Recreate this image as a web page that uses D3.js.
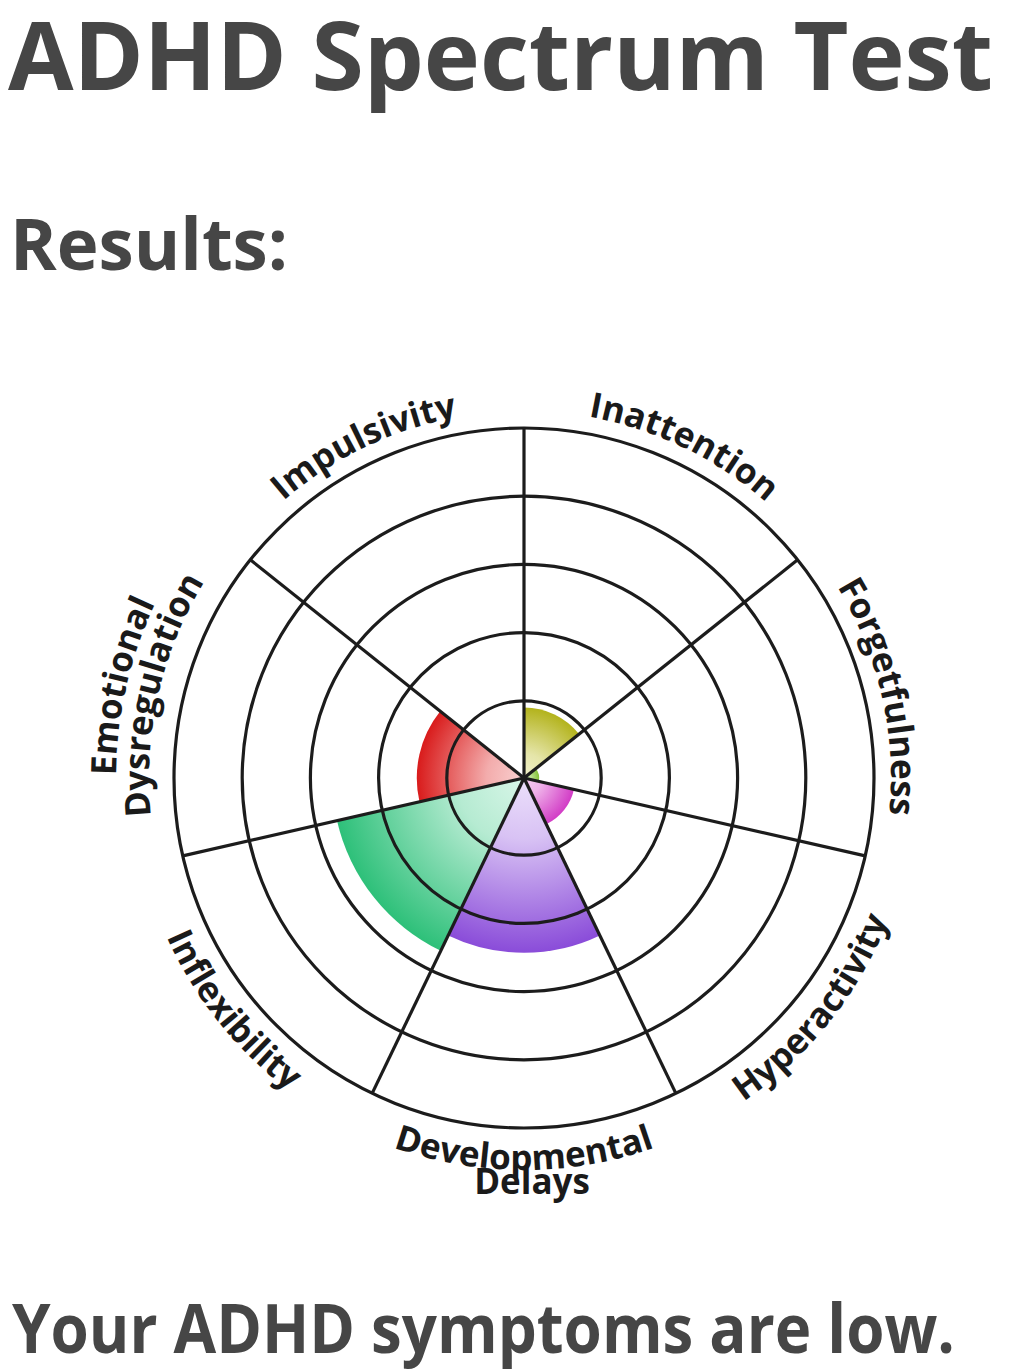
<!DOCTYPE html>
<html>
<head>
<meta charset="utf-8">
<script src="https://cdn.jsdelivr.net/npm/d3@7"></script>
<style>
  html, body { margin: 0; padding: 0; background: #ffffff; }
  svg { display: block; }
</style>
</head>
<body>
<svg id="chart" width="1029" height="1369"></svg>
<script>
// ---- data ----
const categories = ["Inattention", "Forgetfulness", "Hyperactivity", "Developmental Delays", "Inflexibility", "Emotional Dysregulation", "Impulsivity"];
const scores = [0.9, 0.09, 0.62, 2.43, 2.68, 1.44, 0];
const ringLevels = [1, 2, 3, 4, 5];
const outerColors = ["#b3b31c", "#86c23a", "#d23cc6", "#8a4cd9", "#2dc079", "#d91b1b", "#999999"];
const innerColors = ["#f1f1cc", "#d9f0c0", "#f6d0f2", "#ece0fb", "#d8f6e8", "#f9d0d0", "#eeeeee"];
const titleText = "ADHD Spectrum Test";
const subtitleText = "Results:";
const resultText = "Your ADHD symptoms are low.";

// ---- layout ----
const svg = d3.select("#chart");
const cx = 524, cy = 778;
const textColor = "#464646";
const lineColor = "#1c1c1c";

svg.append("rect").attr("width", 1029).attr("height", 1369).attr("fill", "#fff");

function fitText(sel, targetWidth) {
  const w = sel.node().getComputedTextLength();
  if (w > 0) sel.attr("textLength", targetWidth).attr("lengthAdjust", "spacingAndGlyphs");
}

const title = svg.append("text").attr("x", 8).attr("y", 90)
  .attr("font-family", "'Open Sans', sans-serif").attr("font-weight", 700)
  .attr("font-size", 95).attr("fill", textColor).text(titleText);
fitText(title, 985);

const sub = svg.append("text").attr("x", 10).attr("y", 270)
  .attr("font-family", "'Open Sans', sans-serif").attr("font-weight", 700)
  .attr("font-size", 72).attr("fill", textColor).text(subtitleText);
fitText(sub, 278);

const res = svg.append("text").attr("x", 12).attr("y", 1353)
  .attr("font-family", "'Open Sans', sans-serif").attr("font-weight", 700)
  .attr("font-size", 68).attr("fill", textColor).text(resultText);
fitText(res, 943);

// ---- chart ----
const n = categories.length;
const angle = d3.scaleLinear().domain([0, n]).range([0, 2 * Math.PI]);
const r = d3.scaleLinear().domain([0, 5]).range([9, 350]);
const R = r(5);

const defs = svg.append("defs");
const g = svg.append("g").attr("transform", `translate(${cx},${cy})`);

const data = categories.map((c, i) => ({
  name: c, value: scores[i], i,
  start: angle(i), end: angle(i + 1),
  outer: scores[i] > 0 ? r(scores[i]) : 0
}));

data.forEach(d => {
  const grad = defs.append("radialGradient")
    .attr("id", "grad" + d.i)
    .attr("gradientUnits", "userSpaceOnUse")
    .attr("cx", 0).attr("cy", 0).attr("r", Math.max(d.outer, 1));
  grad.append("stop").attr("offset", "0%").attr("stop-color", innerColors[d.i]);
  grad.append("stop").attr("offset", "35%").attr("stop-color", d3.interpolateRgb(innerColors[d.i], outerColors[d.i])(0.2));
  grad.append("stop").attr("offset", "100%").attr("stop-color", outerColors[d.i]);
});

const arc = d3.arc().innerRadius(0).outerRadius(d => d.outer)
  .startAngle(d => d.start).endAngle(d => d.end);

g.selectAll("path.wedge").data(data.filter(d => d.value > 0)).join("path")
  .attr("class", "wedge")
  .attr("d", arc)
  .attr("fill", d => `url(#grad${d.i})`);

// rings
g.selectAll("circle.ring").data(ringLevels).join("circle")
  .attr("class", "ring")
  .attr("r", d => r(d))
  .attr("fill", "none").attr("stroke", lineColor).attr("stroke-width", 3.2);

// spokes
g.selectAll("line.spoke").data(d3.range(n)).join("line")
  .attr("class", "spoke")
  .attr("x1", 0).attr("y1", 0)
  .attr("x2", i => R * Math.sin(angle(i)))
  .attr("y2", i => -R * Math.cos(angle(i)))
  .attr("stroke", lineColor).attr("stroke-width", 3.2);

// labels on arcs
function pt(rad, a) { return [rad * Math.sin(a), -rad * Math.cos(a)]; }
function arcPath(rad, mid, ccw) {
  const a0 = mid - 1.4, a1 = mid + 1.4;
  if (!ccw) {
    const p0 = pt(rad, a0), p1 = pt(rad, a1);
    return `M${p0[0]},${p0[1]} A${rad},${rad} 0 0 1 ${p1[0]},${p1[1]}`;
  } else {
    const p0 = pt(rad, a1), p1 = pt(rad, a0);
    return `M${p0[0]},${p0[1]} A${rad},${rad} 0 0 0 ${p1[0]},${p1[1]}`;
  }
}

const labelFont = 35;
const labelWeight = 700;
data.forEach(d => {
  const mid = (d.start + d.end) / 2;
  const deg = mid * 180 / Math.PI;
  const ccw = deg > 100 && deg < 260;
  const lines = d.name.split(" ");
  let radii;
  if (!ccw) radii = lines.length === 1 ? [367] : [408, 375];
  else radii = lines.length === 1 ? [391] : [392, 416];
  lines.forEach((ln, k) => {
    const id = `lp${d.i}_${k}`;
    if (ccw && k === 1) {
      g.append("text")
        .attr("x", radii[k] * Math.sin(mid) + 8)
        .attr("y", -radii[k] * Math.cos(mid))
        .attr("text-anchor", "middle")
        .attr("font-family", "'Open Sans', sans-serif").attr("font-weight", labelWeight)
        .attr("font-size", labelFont).attr("fill", "#1a1a1a")
        .text(ln);
      return;
    }
    defs.append("path").attr("id", id).attr("d", arcPath(radii[k], mid, ccw));
    g.append("text")
      .attr("font-family", "'Open Sans', sans-serif").attr("font-weight", labelWeight)
      .attr("font-size", labelFont).attr("fill", "#1a1a1a")
      .append("textPath")
      .attr("href", "#" + id)
      .attr("startOffset", "50%")
      .attr("text-anchor", "middle")
      .text(ln);
  });
});
</script>
</body>
</html>
